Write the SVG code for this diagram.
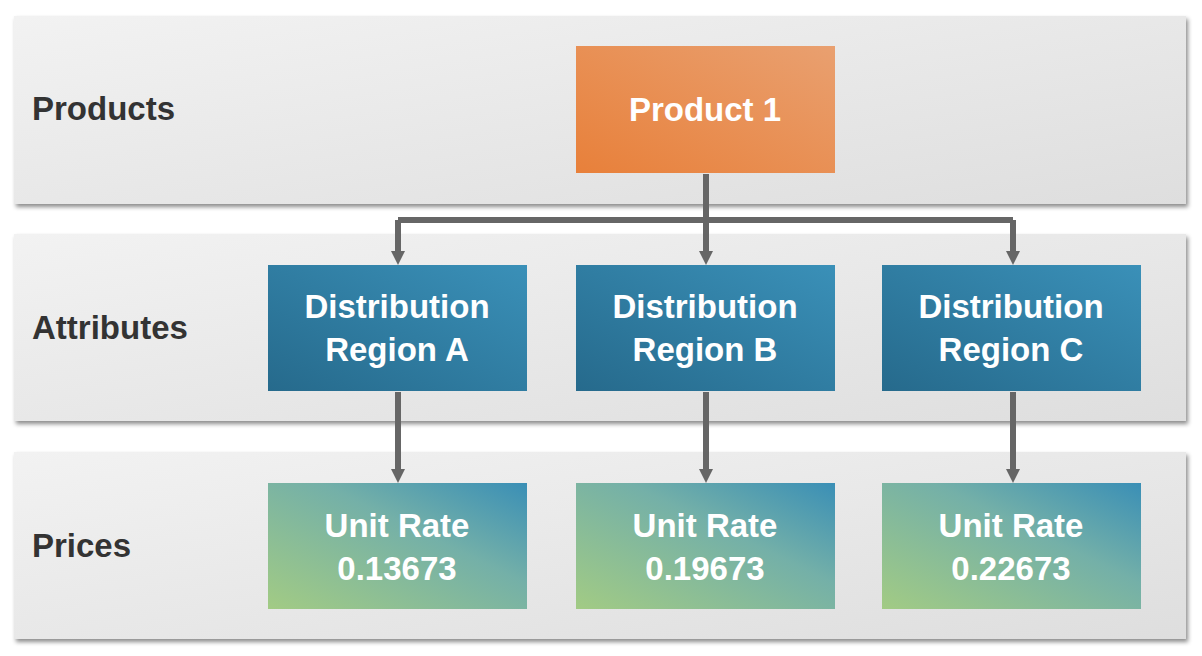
<svg xmlns="http://www.w3.org/2000/svg" width="1202" height="656" viewBox="0 0 1202 656">
<defs>
<linearGradient id="band" x1="0" y1="0" x2="1" y2="1"><stop offset="0" stop-color="#f2f2f2"/><stop offset="1" stop-color="#dedede"/></linearGradient>
<linearGradient id="orange" x1="0" y1="1" x2="1" y2="0"><stop offset="0" stop-color="#e8803a"/><stop offset="1" stop-color="#e9a070"/></linearGradient>
<linearGradient id="blue" x1="0" y1="1" x2="1" y2="0"><stop offset="0" stop-color="#266a8c"/><stop offset="1" stop-color="#3a90b8"/></linearGradient>
<linearGradient id="green" x1="0" y1="1" x2="1" y2="0"><stop offset="0" stop-color="#a2cb84"/><stop offset="0.6" stop-color="#74b0a8"/><stop offset="1" stop-color="#3a8fb6"/></linearGradient>
<filter id="sh" x="-5%" y="-5%" width="110%" height="120%"><feDropShadow dx="2" dy="3" stdDeviation="2" flood-color="#000" flood-opacity="0.45"/></filter>
<marker id="arr" markerWidth="14" markerHeight="14" refX="0" refY="7" orient="auto" markerUnits="userSpaceOnUse" viewBox="0 0 14 14"><path d="M0,0 L14,7 L0,14 Z" fill="#666"/></marker>
</defs>
<style>
.lbl{font-family:"Liberation Sans",Arial,sans-serif;font-weight:bold;font-size:33px;fill:#333}
.nt{font-family:"Liberation Sans",Arial,sans-serif;font-weight:bold;font-size:33px;fill:#fff;text-anchor:middle}
.c{stroke:#666;stroke-width:6;fill:none}
</style>
<rect width="1202" height="656" fill="#fff"/>
<g id="band-products"><rect x="14" y="16" width="1172" height="188" fill="url(#band)" filter="url(#sh)"/><text class="lbl" x="32" y="120">Products</text></g>
<g id="band-attributes"><rect x="14" y="234" width="1172" height="187" fill="url(#band)" filter="url(#sh)"/><text class="lbl" x="32" y="339">Attributes</text></g>
<g id="band-prices"><rect x="14" y="452" width="1172" height="187" fill="url(#band)" filter="url(#sh)"/><text class="lbl" x="32" y="557">Prices</text></g>
<g id="connectors">
<path class="c" d="M706,174 V220 M398,220 H1013"/>
<path class="c" d="M706,220 V251" marker-end="url(#arr)"/>
<path class="c" d="M398,220 V251" marker-end="url(#arr)"/>
<path class="c" d="M1013,220 V251" marker-end="url(#arr)"/>
<path class="c" d="M398,392 V469" marker-end="url(#arr)"/>
<path class="c" d="M706,392 V469" marker-end="url(#arr)"/>
<path class="c" d="M1013,392 V469" marker-end="url(#arr)"/>
</g>
<g id="product1"><rect x="576" y="46" width="259" height="127" fill="url(#orange)"/><text class="nt" x="705" y="121">Product 1</text></g>
<g id="regionA"><rect x="268" y="265" width="259" height="126" fill="url(#blue)"/><text class="nt" x="397" y="318">Distribution</text><text class="nt" x="397" y="361">Region A</text></g>
<g id="regionB"><rect x="576" y="265" width="259" height="126" fill="url(#blue)"/><text class="nt" x="705" y="318">Distribution</text><text class="nt" x="705" y="361">Region B</text></g>
<g id="regionC"><rect x="882" y="265" width="259" height="126" fill="url(#blue)"/><text class="nt" x="1011" y="318">Distribution</text><text class="nt" x="1011" y="361">Region C</text></g>
<g id="priceA"><rect x="268" y="483" width="259" height="126" fill="url(#green)"/><text class="nt" x="397" y="537">Unit Rate</text><text class="nt" x="397" y="580">0.13673</text></g>
<g id="priceB"><rect x="576" y="483" width="259" height="126" fill="url(#green)"/><text class="nt" x="705" y="537">Unit Rate</text><text class="nt" x="705" y="580">0.19673</text></g>
<g id="priceC"><rect x="882" y="483" width="259" height="126" fill="url(#green)"/><text class="nt" x="1011" y="537">Unit Rate</text><text class="nt" x="1011" y="580">0.22673</text></g>
</svg>
